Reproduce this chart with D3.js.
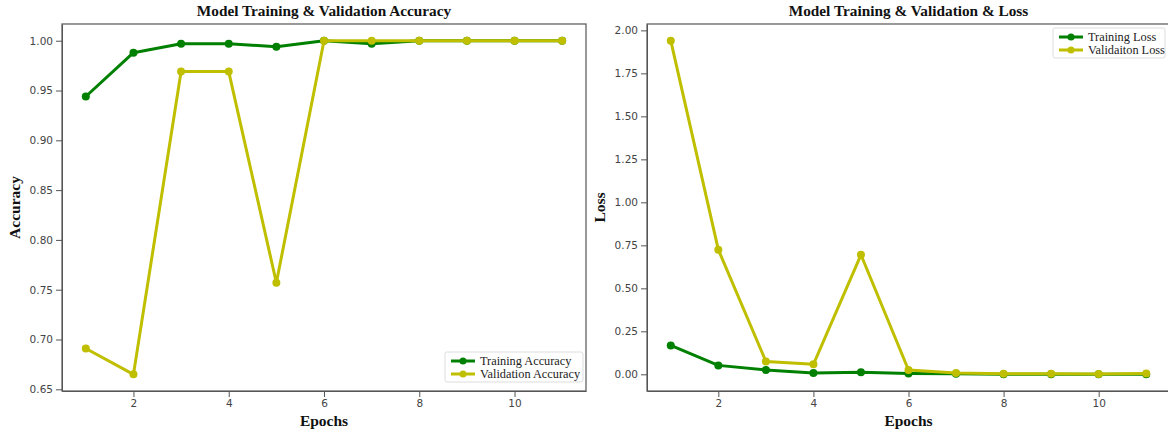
<!DOCTYPE html>
<html>
<head>
<meta charset="utf-8">
<script src="https://cdn.jsdelivr.net/npm/d3@7"></script>
<style>
  body { margin: 0; background: #fff; }
  svg { display: block; }
  .tick text { font-family: "DejaVu Sans", sans-serif; font-size: 10.5px; fill: #444; }
  .tick line, .domain { stroke: #555; }
</style>
</head>
<body>
<div id="chart"></div>
<script>
const epochs = [1, 2, 3, 4, 5, 6, 7, 8, 9, 10, 11];
const trainAcc = [0.944, 0.988, 0.997, 0.997, 0.994, 1.0, 0.997, 1.0, 1.0, 1.0, 1.0];
const valAcc = [0.691, 0.665, 0.969, 0.969, 0.757, 1.0, 1.0, 1.0, 1.0, 1.0, 1.0];
const trainLoss = [0.168, 0.052, 0.025, 0.008, 0.012, 0.005, 0.003, 0.001, 0.001, 0.001, 0.001];
const valLoss = [1.94, 0.725, 0.075, 0.058, 0.695, 0.025, 0.008, 0.003, 0.003, 0.002, 0.005];
const xTicks = [2, 4, 6, 8, 10];
const accTicks = [0.65, 0.70, 0.75, 0.80, 0.85, 0.90, 0.95, 1.00];
const lossTicks = [0.00, 0.25, 0.50, 0.75, 1.00, 1.25, 1.50, 1.75, 2.00];

const green = "#008000", yellow = "#bfbf00";

const svg = d3.select("#chart")
    .append("svg")
        .attr("width", 1168)
        .attr("height", 432);

const createPanel = (opts) => {
    const { left, width, top, height, yDomain, yTicks, series, title, yLabel, legend } = opts;

    const g = svg.append("g").attr("transform", `translate(${left},${top})`);

    const x = d3.scaleLinear().domain([0.5, 11.5]).range([0, width]);
    const y = d3.scaleLinear().domain(yDomain).range([height, 0]);

    g.append("text")
        .attr("x", width / 2)
        .attr("y", -8)
        .attr("text-anchor", "middle")
        .style("font-family", "'Liberation Serif', serif")
        .style("font-weight", "bold")
        .style("font-size", "15.3px")
        .style("fill", "#111")
        .text(title);

    const line = d3.line()
        .x((d, i) => x(epochs[i]))
        .y(d => y(d));

    series.forEach(s => {
        g.append("path")
            .datum(s.values)
            .attr("fill", "none")
            .attr("stroke", s.colour)
            .attr("stroke-width", 3)
            .attr("stroke-linejoin", "round")
            .attr("d", line);
        g.selectAll(null)
            .data(s.values)
            .enter().append("circle")
            .attr("cx", (d, i) => x(epochs[i]))
            .attr("cy", d => y(d))
            .attr("r", 4)
            .attr("fill", s.colour);
    });

    g.append("g")
        .attr("transform", `translate(0,${height})`)
        .call(d3.axisBottom(x).tickValues(xTicks).tickFormat(d3.format("d")).tickSizeOuter(0));

    g.append("g")
        .call(d3.axisLeft(y).tickValues(yTicks).tickFormat(d3.format(".2f")).tickSizeOuter(0));

    // frame
    g.append("rect")
        .attr("width", width)
        .attr("height", height)
        .attr("fill", "none")
        .attr("stroke", "#555")
        .attr("stroke-width", 1.2);

    g.append("text")
        .attr("x", width / 2)
        .attr("y", height + 35)
        .attr("text-anchor", "middle")
        .style("font-family", "'Liberation Serif', serif")
        .style("font-weight", "bold")
        .style("font-size", "15.5px")
        .style("fill", "#111")
        .text("Epochs");

    g.append("text")
        .attr("transform", "rotate(-90)")
        .attr("x", -height / 2)
        .attr("y", -42)
        .attr("text-anchor", "middle")
        .style("font-family", "'Liberation Serif', serif")
        .style("font-weight", "bold")
        .style("font-size", "15.5px")
        .style("fill", "#111")
        .text(yLabel);

    const lg = g.append("g").attr("transform", `translate(${legend.x},${legend.y})`);
    lg.append("rect")
        .attr("width", legend.w)
        .attr("height", 30)
        .attr("rx", 2)
        .attr("fill", "#fff")
        .attr("fill-opacity", 0.85)
        .attr("stroke", "#ddd");
    series.forEach((s, i) => {
        const yy = 9 + i * 13;
        lg.append("line")
            .attr("x1", 6).attr("x2", 30)
            .attr("y1", yy).attr("y2", yy)
            .attr("stroke", s.colour)
            .attr("stroke-width", 3);
        lg.append("circle")
            .attr("cx", 18).attr("cy", yy).attr("r", 3.5)
            .attr("fill", s.colour);
        lg.append("text")
            .attr("x", 35)
            .attr("y", yy + 4)
            .style("font-family", "'Liberation Serif', serif")
            .style("font-size", "12.3px")
            .style("fill", "#222")
            .text(s.name);
    });

    return g;
};

createPanel({
    left: 62, width: 524, top: 24, height: 367,
    yDomain: [0.6483, 1.0168], yTicks: accTicks,
    title: "Model Training & Validation Accuracy", yLabel: "Accuracy",
    series: [
        { name: "Training Accuracy", values: trainAcc, colour: green },
        { name: "Validation Accuracy", values: valAcc, colour: yellow }
    ],
    legend: { x: 383, y: 328, w: 138 }
});

createPanel({
    left: 647, width: 523, top: 24, height: 367,
    yDomain: [-0.097, 2.037], yTicks: lossTicks,
    title: "Model Training & Validation & Loss", yLabel: "Loss",
    series: [
        { name: "Training Loss", values: trainLoss, colour: green },
        { name: "Validaiton Loss", values: valLoss, colour: yellow }
    ],
    legend: { x: 406, y: 4, w: 112 }
});
</script>
</body>
</html>
